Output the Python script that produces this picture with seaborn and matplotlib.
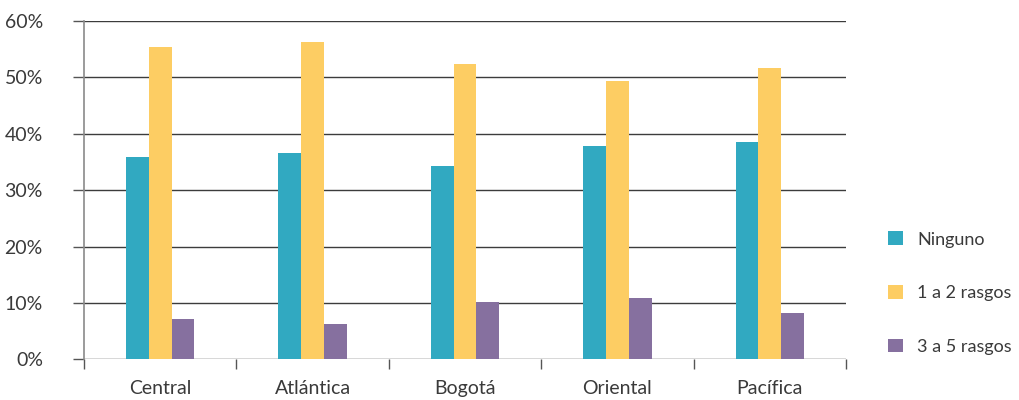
import matplotlib
matplotlib.use("Agg")
import matplotlib.pyplot as plt
import seaborn as sns
import pandas as pd
import numpy as np
from matplotlib.patches import Patch
from matplotlib.ticker import FixedLocator, PercentFormatter

regions = ["Central", "Atlántica", "Bogotá", "Oriental", "Pacífica"]
series_names = ["Ninguno", "1 a 2 rasgos", "3 a 5 rasgos"]
ninguno = [35.9, 36.6, 34.3, 37.9, 38.6]
uno_dos = [55.4, 56.3, 52.4, 49.4, 51.7]
tres_cinco = [7.1, 6.2, 10.1, 10.9, 8.2]
colors = ["#31A9C1", "#FDCD63", "#86709F"]
yticks = [0, 10, 20, 30, 40, 50, 60]

df = pd.DataFrame({
    "region": regions * 3,
    "serie": [series_names[0]] * 5 + [series_names[1]] * 5 + [series_names[2]] * 5,
    "valor": ninguno + uno_dos + tres_cinco,
})

sns.set_theme(style="white")
plt.rcParams["font.family"] = ["Lato", "DejaVu Sans"]
text_color = "#3a3a3a"

fig = plt.figure(figsize=(10.2, 4.0), dpi=100)
ax = fig.add_axes([84 / 1020, 1 - 359.3 / 400, (846 - 84) / 1020, (359.3 - 21) / 400])

sns.barplot(data=df, x="region", y="valor", hue="serie", order=regions,
            hue_order=series_names, palette=colors, width=0.45, gap=0,
            saturation=1, ax=ax, legend=False, edgecolor="none", linewidth=0)

ax.set_ylim(0, 60)
ax.set_xlim(-0.5, 4.5)
ax.set_yticks(yticks)
ax.yaxis.set_major_formatter(PercentFormatter(decimals=0))
ax.set_xlabel("")
ax.set_ylabel("")
ax.set_axisbelow(True)
ax.yaxis.grid(True, color="#3c3c3c", linewidth=1.0)
ax.xaxis.grid(False)

for s in ["top", "right", "bottom"]:
    ax.spines[s].set_visible(False)
ax.spines["left"].set_color("#8a8a8a")
ax.spines["left"].set_linewidth(1.2)

ax.tick_params(axis="y", which="major", length=8, width=1, color="#555555",
               direction="out", pad=21.6, labelsize=14, labelcolor=text_color, left=True)
ax.xaxis.set_minor_locator(FixedLocator(np.arange(-0.5, 5.0, 1.0)))
ax.tick_params(axis="x", which="major", length=0, pad=15, labelsize=14, labelcolor=text_color)
ax.tick_params(axis="x", which="minor", length=7, width=1, color="#555555", direction="out", bottom=True)

handles = [Patch(facecolor=c, edgecolor="none") for c in colors]
fig.legend(handles, series_names, loc="upper left", bbox_to_anchor=(0.855, 0.462),
           frameon=False, handlelength=0.8, handleheight=0.8, handletextpad=0.8,
           labelspacing=2.07, fontsize=13, labelcolor=text_color)

fig.savefig("out.png", dpi=100)
